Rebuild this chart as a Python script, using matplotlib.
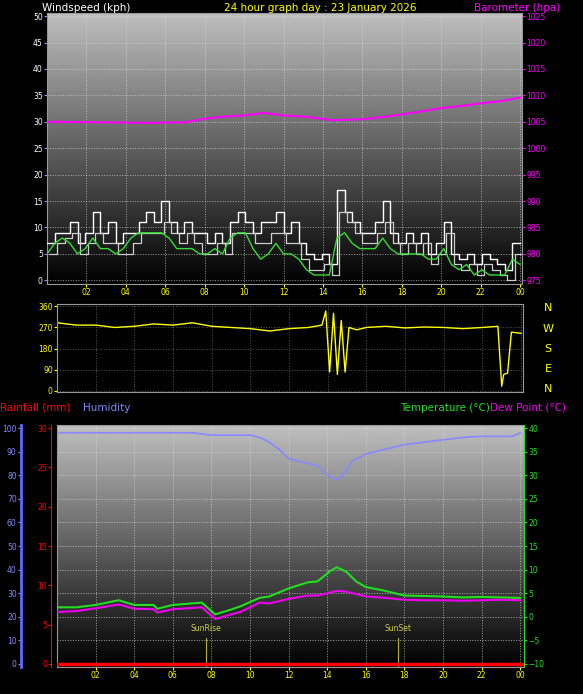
import numpy as np
import matplotlib
matplotlib.use("Agg")
import matplotlib.pyplot as plt

W, H = 583, 694
hour_labels = ["02","04","06","08","10","12","14","16","18","20","22","00"]
hour_ticks = [2,4,6,8,10,12,14,16,18,20,22,24]

# Wind (kph), 30-minute samples from 00:00 to 24:00
gust = [7,9,9,11,7,9,13,9,11,7,9,9,11,13,11,15,11,9,11,9,9,7,9,7,
        11,13,11,9,11,11,13,9,11,7,5,4,5,3,17,13,11,9,9,11,15,9,7,9,
        7,9,5,7,11,5,4,5,3,5,4,3,2,7,7]
speed = [5,7,8,9,5,7,9,7,7,5,5,7,9,9,9,11,9,7,9,7,5,5,7,5,
         9,9,9,7,7,9,9,7,7,4,2,2,3,1,13,11,9,7,7,9,11,7,5,7,
         5,7,3,5,9,3,2,3,1,3,2,1,0,5,5]
avg = [5,7,8,7,5,6,8,6,6,5,6,8,9,9,9,9,8,6,6,6,5,5,6,5,
       8,9,9,6,4,5,7,5,5,4,2,1,1,1,8,9,7,6,6,6,8,6,5,5,
       5,5,4,4,6,3,2,3,1,2,1,1,1,4,3]
baro_t = [0,3,5,7,8,9,10,11,12,13,14.5,16,17,18,19,20,21,22,23,24]
baro = [1005,1004.9,1004.8,1004.9,1005.6,1006,1006.2,1006.7,1006.2,1006,1005.3,1005.5,1005.9,1006.4,1007,1007.6,1008,1008.5,1008.9,1009.6]

# Wind direction (degrees)
dir_t = [0,1,2,3,4,5,6,7,8,9,10,11,12,13,13.7,13.9,14.1,14.3,14.5,14.7,14.9,15.1,15.5,16,17,18,19,20,21,22,22.8,23.0,23.1,23.3,23.5,24]
wdir = [290,280,280,270,275,285,280,290,275,270,265,255,265,270,280,340,80,330,70,300,80,270,260,270,275,268,272,270,265,270,275,20,70,75,250,245]

# Humidity (%)
hum_t = [0,4,7,8,10,10.5,11,11.5,12,13,13.5,14,14.5,14.8,15.3,16,17,18,19,20,21,22,23.6,24]
hum = [98,98,98,97,97,96,94,91,87,85,84,80,78,80,86,89,91,93,94,95,96,96.5,96.5,98]

# Temperature / dew point (°C)
tmp_t = [0,1,2,3.2,4,5,5.2,6,7.5,8.2,9,9.5,10.5,11,12,13,13.5,14.2,14.5,15,15.5,16,17,18,19,20,21,22,23,24]
temp = [2,2,2.5,3.5,2.5,2.5,1.7,2.5,3,0.5,1.5,2.2,4,4.3,6,7.3,7.5,9.8,10.5,9.5,7.5,6.3,5.5,4.5,4.4,4.3,4.1,4.2,4.1,4]
dew = [1,1.2,1.8,2.6,1.7,1.6,0.9,1.6,2,-0.5,0.5,1,3,2.8,3.8,4.5,4.5,5.2,5.5,5.3,4.8,4.3,4,3.6,3.5,3.5,3.4,3.5,3.6,3.5]
rain = [0,0]
sunrise, sunset = 7.7, 17.66

fig = plt.figure(figsize=(W/100, H/100), dpi=100, facecolor="black")

def ax_px(l, t, r, b):
    return fig.add_axes([l/W, 1-b/H, (r-l)/W, (b-t)/H])

grad = np.linspace(0.75, 0.0, 256).reshape(-1, 1)

def gradient_bg(ax):
    ax.imshow(grad, cmap="gray", vmin=0, vmax=1, aspect="auto",
              extent=[0, 1, 0, 1], transform=ax.transAxes, zorder=0)

def style(ax, grid_color="#dddddd"):
    ax.set_facecolor("black")
    ax.grid(True, color=grid_color, linestyle=":", linewidth=0.7, alpha=0.7)
    for s in ax.spines.values():
        s.set_color("#999999")
    ax.tick_params(labelsize=5.5, length=2, pad=1)

# Panel 1: wind + barometer
a1 = ax_px(47, 13, 522, 284)
gradient_bg(a1)
style(a1)
a1.step(np.linspace(0, 24, len(gust)), gust, where="post", color="white", lw=1, zorder=3)
a1.step(np.linspace(0, 24, len(speed)) + 0.12, speed, where="post", color="#cccccc", lw=0.9, zorder=3)
a1.plot(np.linspace(0, 24, len(avg)), avg, color="#33dd33", lw=1, zorder=4)
a1.set_xlim(0, 24.1)
a1.set_ylim(-0.7, 50.6)
a1.set_yticks(range(0, 51, 5))
a1.set_xticks(hour_ticks, hour_labels)
a1.tick_params(axis="x", colors="yellow")
a1.tick_params(axis="y", colors="#8888ff")
for lb in a1.get_yticklabels():
    lb.set_color("white")
b1 = a1.twinx()
b1.plot(baro_t, baro, color="#ff00ff", lw=1.5)
b1.set_ylim(975 - 0.7, 1025.6)
b1.set_yticks(range(975, 1026, 5))
b1.tick_params(axis="y", colors="#ff00ff", labelsize=5.5, length=2, pad=1)
b1.set_xlim(0, 24.1)
for s in b1.spines.values():
    s.set_visible(False)
fig.text(42/W, 1-8/H, "Windspeed (kph)", color="white", fontsize=7.5, va="center")
fig.text(320/W, 1-8/H, "24 hour graph day : 23 January 2026", color="yellow", fontsize=7.5, va="center", ha="center")
fig.text(560/W, 1-8/H, "Barometer (hpa)", color="#ff00ff", fontsize=7.5, va="center", ha="right")

# Panel 2: wind direction
a2 = ax_px(57, 304, 523, 392)
style(a2, "#777777")
a2.plot(dir_t, wdir, color="yellow", lw=1)
a2.set_xlim(0, 24.1)
a2.set_ylim(-5, 370)
a2.set_yticks([0, 90, 180, 270, 360])
a2.set_xticks(hour_ticks, [])
a2.tick_params(axis="y", colors="yellow")
for lbl, yy in zip(["N", "W", "S", "E", "N"], [308, 329, 349, 369, 389]):
    fig.text(548/W, 1-yy/H, lbl, color="yellow", fontsize=8, va="center", ha="center")

# Panel 3: humidity, rainfall, temperature, dew point
a3 = ax_px(57, 425, 524, 667)
gradient_bg(a3)
style(a3)
a3.plot(hum_t, hum, color="#8888ff", lw=1.2, zorder=3)
a3.set_xlim(0, 24.2)
a3.set_ylim(-1.3, 101.3)
a3.set_xticks(hour_ticks, hour_labels)
a3.tick_params(axis="x", colors="yellow")
a3.set_yticks(range(0, 101, 10))
a3.yaxis.set_tick_params(labelleft=False, left=False)
for xv, name in [(sunrise, "SunRise"), (sunset, "SunSet")]:
    a3.axvline(xv, ymin=0, ymax=0.12, color="#bbaa33", lw=0.8, zorder=2)
    a3.text(xv, 13, name, color="#cccc44", fontsize=5.5, ha="center", va="bottom", zorder=5)

hax = a3.twinx()
hax.spines["left"].set_position(("outward", 26))
hax.spines["left"].set_color("#6666ff")
hax.spines["left"].set_linewidth(2)
hax.yaxis.tick_left()
hax.set_ylim(-1.3, 101.3)
hax.set_yticks(range(0, 101, 10))
hax.tick_params(axis="y", colors="#8888ff", labelsize=5.5, length=2, pad=1)
for k in ["right", "top", "bottom"]:
    hax.spines[k].set_visible(False)

rax = a3.twinx()
rax.spines["left"].set_position(("outward", 4))
rax.spines["left"].set_color("red")
rax.yaxis.tick_left()
rax.plot([0, 24.2], rain, color="red", lw=2.5, zorder=5)
rax.set_ylim(-0.39, 30.39)
rax.set_yticks(range(0, 31, 5))
rax.tick_params(axis="y", colors="red", labelsize=5.5, length=2, pad=1)
for k in ["right", "top", "bottom"]:
    rax.spines[k].set_visible(False)

tax = a3.twinx()
tax.plot(tmp_t, temp, color="#22dd22", lw=1.5)
tax.plot(tmp_t, dew, color="#ee00ee", lw=1.5)
tax.set_ylim(-10.65, 40.65)
tax.set_yticks(range(-10, 41, 5))
tax.tick_params(axis="y", colors="#22dd22", labelsize=5.5, length=2, pad=1)
for k in ["left", "top", "bottom"]:
    tax.spines[k].set_visible(False)
tax.spines["right"].set_color("#22dd22")
tax.set_xlim(0, 24.2)

fig.text(0, 1-408/H, "Rainfall (mm)", color="red", fontsize=7.5, va="center")
fig.text(83/W, 1-408/H, "Humidity", color="#8888ff", fontsize=7.5, va="center")
fig.text(490/W, 1-408/H, "Temperature (°C)", color="#22dd22", fontsize=7.5, va="center", ha="right")
fig.text(490/W, 1-408/H, "Dew Point (°C)", color="#ee00ee", fontsize=7.5, va="center")

fig.savefig("out.png", dpi=100, facecolor="black")
